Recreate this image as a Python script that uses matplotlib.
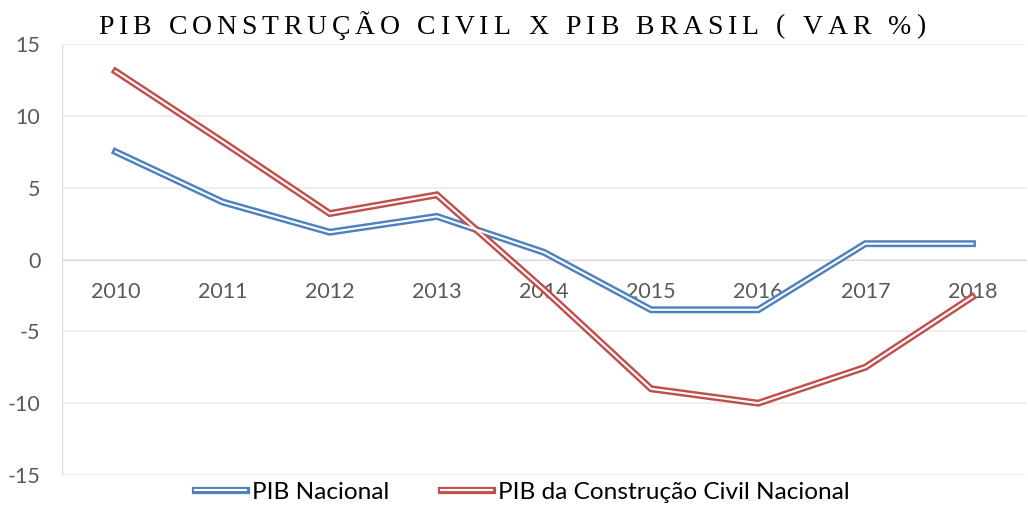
import numpy as np
import matplotlib.pyplot as plt
from matplotlib.lines import Line2D
from matplotlib.legend_handler import HandlerTuple

anos = ['2010', '2011', '2012', '2013', '2014', '2015', '2016', '2017', '2018']
pib_nacional = [7.5, 4.0, 1.9, 3.0, 0.5, -3.5, -3.5, 1.1, 1.1]
pib_construcao = [13.1, 8.2, 3.2, 4.5, -2.1, -9.0, -10.0, -7.5, -2.6]
titulo = 'PIB CONSTRUÇÃO CIVIL X PIB BRASIL ( VAR %)'

azul = '#4F81BD'
vermelho = '#C0504D'
cinza = '#595959'

plt.rcParams['font.family'] = ['Lato', 'DejaVu Sans']
plt.rcParams['axes.unicode_minus'] = False

W, H = 1028, 505
fig = plt.figure(figsize=(W / 100, H / 100), dpi=100)
ax = fig.add_axes([62/W, 30/H, 964/W, 431/H])

x = np.arange(len(anos))

# linha dupla: traco grosso colorido + traco branco fino por cima
for serie, cor in [(pib_nacional, azul), (pib_construcao, vermelho)]:
    ax.plot(x, serie, color=cor, lw=5.0, solid_joinstyle='miter', zorder=3)
    ax.plot(x, serie, color='white', lw=1.5, solid_joinstyle='miter', zorder=4)

ax.set_xlim(-0.5, len(anos) - 0.5)
ax.set_ylim(-15, 15)
ax.set_yticks(np.arange(-15, 16, 5))
ax.grid(axis='y', color='#ececec', lw=1.2)
ax.set_axisbelow(True)

ax.spines['top'].set_visible(False)
ax.spines['right'].set_visible(False)
ax.spines['left'].set_color('#d9d9d9')
ax.spines['bottom'].set_position(('data', 0))
ax.spines['bottom'].set_color('#d9d9d9')
ax.spines['bottom'].set_zorder(2)

ax.set_xticks(x)
ax.set_xticklabels(anos)
ax.tick_params(axis='x', length=0, pad=16, labelsize=15.5, labelcolor=cinza)
ax.tick_params(axis='y', length=0, pad=15.5, labelsize=15.5, labelcolor=cinza)

# titulo com espacamento entre letras
renderer = fig.canvas.get_renderer()
tracking = 4.8
larguras = []
for c in titulo:
    t = fig.text(0, 0, c if c != ' ' else 'i', fontsize=20, family='Liberation Serif')
    larguras.append(t.get_window_extent(renderer).width)
    t.remove()
total = sum(larguras) + tracking * (len(titulo) - 1)
pos = 512 - total / 2
for c, w in zip(titulo, larguras):
    fig.text(pos / W, 1 - 27 / H, c, fontsize=20, family='Liberation Serif',
             ha='left', va='center', color='black')
    pos += w + tracking

h1 = (Line2D([], [], color=azul, lw=5.2), Line2D([], [], color='white', lw=1.5))
h2 = (Line2D([], [], color=vermelho, lw=5.2), Line2D([], [], color='white', lw=1.5))
fig.legend([h1, h2], ['PIB Nacional', 'PIB da Construção Civil Nacional'],
           handler_map={tuple: HandlerTuple(ndivide=1)},
           loc='center', bbox_to_anchor=(0.508, 1 - 492 / H), ncol=2, frameon=False,
           fontsize=17.6, handlelength=2.1, handletextpad=0.25, columnspacing=2.1)

fig.savefig('out.png', dpi=100)
